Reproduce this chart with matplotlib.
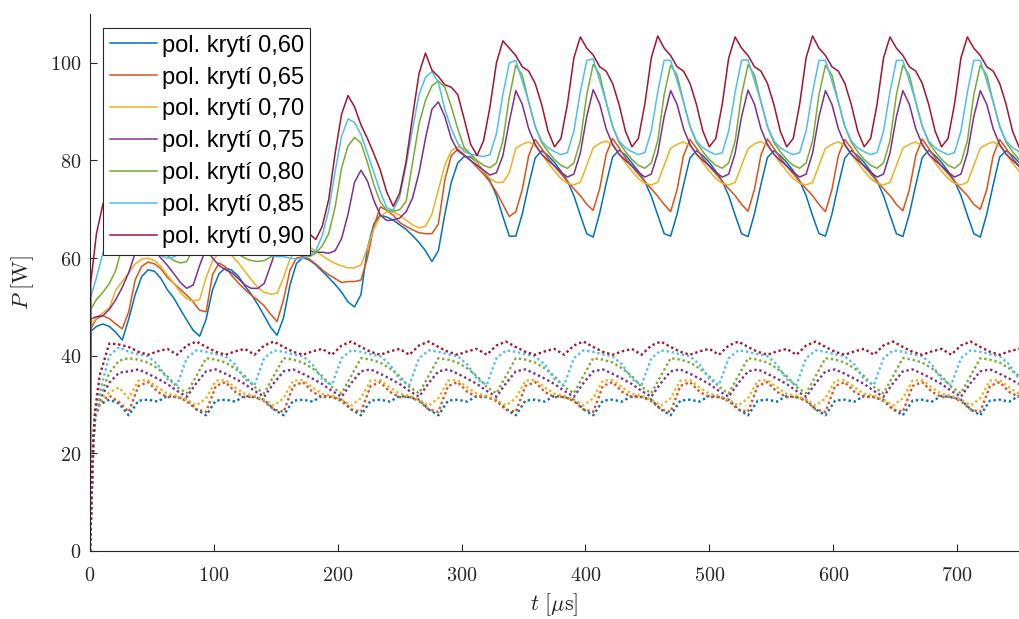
import numpy as np
import matplotlib.pyplot as plt
from matplotlib.ticker import FuncFormatter

plt.rcParams['mathtext.fontset'] = 'cm'

labels = ['pol. krytí 0,60', 'pol. krytí 0,65', 'pol. krytí 0,70', 'pol. krytí 0,75',
          'pol. krytí 0,80', 'pol. krytí 0,85', 'pol. krytí 0,90']
colors = ['#0072BD', '#D95319', '#EDB120', '#7E2F8E', '#77AC30', '#4DBEEE', '#A2142F']

# sample times [us]
t_solid = np.concatenate([[0, 0.6], np.linspace(750 / 144, 750, 144)])
t_dotted = np.concatenate([[0, 1.3, 2.7, 4.2], np.linspace(7.8125, 750, 96)])

# solid lines (upper family)
p060 = [0, 45,
        46.0, 46.5, 46.0, 44.8, 43.2,
        47.5, 52.5, 56.2, 57.6, 57.3, 55.8, 53.5, 51.8, 49.5, 47.3, 45.2, 44.0,
        47.5, 53.5, 56.8, 58.0, 57.5, 56.3, 54.3, 52.6, 50.5, 48.2, 45.8, 44.2,
        47.8, 54.5, 58.9, 60.1, 59.6, 58.6, 57.3, 56.0, 54.6, 53.0, 51.0, 50.0,
        52.5, 62.0, 67.0, 68.8, 68.4, 67.8, 66.8, 65.9, 64.6, 63.2, 61.5, 59.3,
        61.5, 69.0, 75.5, 79.5, 80.8, 80.7, 79.6, 77.8, 75.8, 72.8, 68.5, 64.5,
        64.5, 69.0, 75.0, 80.5, 82.0, 81.0, 79.6, 77.8, 75.8, 72.8, 68.8, 65.0,
        64.3, 69.2, 75.2, 80.7, 82.1, 81.1, 79.5, 77.8, 75.7, 72.7, 68.8, 65.0,
        64.5, 69.0, 75.0, 80.5, 82.0, 81.0, 79.6, 77.8, 75.8, 72.8, 68.8, 65.0,
        64.4, 69.1, 75.1, 80.6, 82.0, 81.0, 79.6, 77.9, 75.8, 72.8, 68.7, 65.0,
        64.5, 69.0, 75.0, 80.5, 82.0, 81.0, 79.6, 77.8, 75.8, 72.8, 68.8, 65.0,
        64.4, 69.0, 75.0, 80.6, 82.1, 81.0, 79.6, 77.8, 75.8, 72.8, 68.8, 65.0,
        64.3, 69.0, 75.0, 80.7, 82.0, 81.0, 79.6]
p065 = [0, 45.5,
        47.6, 48.2, 47.6, 46.5, 45.5,
        49.0, 55.5, 58.3, 59.2, 58.8, 57.8, 56.0, 54.8, 53.6, 52.4, 51.0, 49.3,
        49.0, 56.6, 59.0, 58.2, 56.4, 54.9, 53.6, 52.4, 51.4, 50.2, 48.5, 47.0,
        51.5, 57.5, 60.0, 60.3, 59.8, 58.8, 57.6, 56.6, 55.8, 55.0, 55.2, 55.2,
        55.5, 60.0, 66.5, 70.5, 69.8, 68.8, 67.3, 66.5, 65.8, 65.2, 65.0, 65.0,
        67.0, 76.0, 81.0, 82.3, 81.2, 80.0, 78.6, 77.2, 75.6, 73.5, 71.0, 68.5,
        69.5, 74.0, 81.0, 84.3, 82.5, 80.5, 78.8, 77.3, 75.7, 74.2, 72.8, 71.0,
        69.8, 74.2, 81.2, 84.5, 82.6, 80.5, 78.8, 77.2, 75.7, 74.2, 72.7, 71.0,
        69.5, 74.0, 81.0, 84.3, 82.5, 80.5, 78.8, 77.3, 75.7, 74.2, 72.8, 71.0,
        69.6, 74.1, 81.1, 84.4, 82.5, 80.5, 78.8, 77.3, 75.7, 74.2, 72.8, 71.0,
        69.5, 74.0, 81.0, 84.3, 82.5, 80.5, 78.8, 77.3, 75.7, 74.2, 72.8, 71.0,
        69.7, 74.0, 81.0, 84.4, 82.5, 80.5, 78.8, 77.3, 75.7, 74.2, 72.8, 71.0,
        70.0, 74.0, 81.0, 84.3, 82.5, 80.5, 78.8]
p070 = [0, 46,
        47.8, 48.8, 49.8, 53.5, 55.2,
        57.0, 58.8, 59.8, 60.0, 59.5, 58.2, 56.5, 54.8, 53.0, 51.6, 51.2, 51.5,
        56.0, 59.5, 61.0, 61.2, 60.5, 59.0, 57.3, 55.6, 54.0, 53.0, 52.6, 52.8,
        56.0, 59.8, 61.8, 62.5, 62.2, 61.5, 60.5, 59.6, 58.9, 58.4, 58.0, 58.0,
        58.6, 62.0, 66.0, 68.5, 69.5, 69.5, 68.8, 67.8, 66.8, 66.2, 66.5, 69.0,
        74.0, 79.0, 82.0, 82.8, 82.3, 81.2, 79.5, 77.8, 76.3, 75.5, 75.5, 77.5,
        82.5, 83.3, 83.8, 83.0, 81.3, 79.5, 77.8, 76.3, 75.3, 75.0, 75.5, 79.0,
        82.6, 83.5, 84.0, 83.1, 81.3, 79.5, 77.8, 76.3, 75.3, 75.0, 75.5, 79.0,
        82.5, 83.3, 83.8, 83.0, 81.3, 79.5, 77.8, 76.3, 75.3, 75.0, 75.5, 79.0,
        82.4, 83.4, 83.9, 83.0, 81.3, 79.5, 77.8, 76.3, 75.3, 75.0, 75.5, 79.0,
        82.5, 83.3, 83.8, 83.0, 81.3, 79.5, 77.8, 76.3, 75.3, 75.0, 75.5, 79.0,
        82.5, 83.3, 83.8, 83.0, 81.3, 79.5, 77.8, 76.3, 75.3, 75.0, 75.5, 79.0,
        82.5, 83.3, 83.8, 83.0, 81.3, 79.5, 77.8]
p075 = [0, 47.5,
        48.0, 48.2, 49.5, 51.5, 54.0,
        57.0, 61.0, 62.8, 62.5, 61.5, 60.0, 58.5, 56.8, 55.0, 53.8, 54.5, 58.5,
        62.0, 60.0, 58.5, 57.6, 57.0, 55.8, 54.5, 53.8, 53.8, 54.8, 58.5, 62.5,
        64.5, 64.8, 63.8, 62.5, 61.5, 61.2, 61.2, 61.0, 61.5, 64.0, 69.0, 75.5,
        78.0, 75.8, 71.8, 68.8, 67.7, 67.8, 68.2, 69.5, 72.3, 77.5, 84.5, 90.5,
        92.0, 89.0, 84.5, 82.0, 81.0, 80.0, 79.0, 78.0, 77.0, 77.5, 81.0, 88.0,
        94.3, 91.5, 86.5, 83.3, 81.3, 80.0, 78.9, 77.6, 76.6, 77.2, 81.5, 89.0,
        94.5, 91.6, 86.5, 83.3, 81.3, 80.0, 78.9, 77.6, 76.6, 77.2, 81.5, 89.0,
        94.3, 91.5, 86.5, 83.3, 81.3, 80.0, 78.9, 77.6, 76.6, 77.2, 81.5, 89.0,
        94.4, 91.5, 86.5, 83.3, 81.3, 80.0, 78.9, 77.6, 76.6, 77.2, 81.5, 89.0,
        94.3, 91.5, 86.5, 83.3, 81.3, 80.0, 78.9, 77.6, 76.6, 77.2, 81.5, 89.0,
        94.3, 91.5, 86.5, 83.3, 81.3, 80.0, 78.9, 77.6, 76.6, 77.2, 81.5, 89.0,
        94.3, 91.5, 86.5, 83.3, 81.3, 80.0, 78.9]
p080 = [0, 49.5,
        51.5, 53.0, 54.8, 57.5, 62.5,
        66.0, 67.5, 67.0, 65.5, 63.5, 61.8, 60.5, 59.5, 59.0, 59.3, 62.0, 66.5,
        67.5, 67.0, 65.5, 63.5, 62.0, 60.8, 60.0, 59.5, 59.3, 59.5, 60.2, 61.5,
        62.5, 62.8, 61.8, 60.6, 60.3, 61.0, 62.5, 65.0, 70.5, 78.5, 83.0, 84.7,
        83.6, 79.6, 75.0, 71.5, 69.8, 69.6, 69.9, 71.6, 79.5, 87.5, 92.3, 95.3,
        96.3, 95.0, 91.0, 86.5, 82.6, 81.3, 80.0, 79.0, 78.5, 79.5, 84.0, 93.0,
        99.5, 97.5, 92.0, 87.0, 83.7, 81.8, 80.2, 79.0, 78.4, 79.5, 84.0, 93.5,
        99.7, 97.6, 92.0, 87.0, 83.7, 81.8, 80.2, 79.0, 78.4, 79.5, 84.0, 93.5,
        99.5, 97.5, 92.0, 87.0, 83.7, 81.8, 80.2, 79.0, 78.4, 79.5, 84.0, 93.5,
        99.6, 97.5, 92.0, 87.0, 83.7, 81.8, 80.2, 79.0, 78.4, 79.5, 84.0, 93.5,
        99.5, 97.5, 92.0, 87.0, 83.7, 81.8, 80.2, 79.0, 78.4, 79.5, 84.0, 93.5,
        99.5, 97.5, 92.0, 87.0, 83.7, 81.8, 80.2, 79.0, 78.4, 79.5, 84.0, 93.5,
        99.5, 97.5, 92.0, 87.0, 83.7, 81.8, 80.2]
p085 = [0, 52,
        56.0, 61.0, 65.0, 68.5, 71.0,
        72.0, 69.5, 66.5, 63.5, 61.5, 60.5, 60.0, 60.2, 61.2, 63.5, 67.0, 69.0,
        69.0, 68.0, 66.5, 65.0, 63.5, 62.3, 61.5, 61.0, 60.8, 60.7, 60.5, 60.3,
        60.3, 60.0, 59.8, 60.0, 60.6, 61.5, 64.6, 69.8, 77.8, 85.0, 88.5, 87.8,
        85.3, 81.5, 77.5, 73.6, 70.3, 69.8, 72.5, 79.0, 86.5, 93.5, 97.0, 98.2,
        96.0, 90.5, 86.5, 83.5, 81.8, 81.3, 81.0, 80.8, 81.2, 85.5, 93.5, 100.0,
        100.5, 96.3, 92.0, 87.0, 84.0, 82.6, 81.8, 81.2, 81.6, 86.0, 94.0, 100.5,
        100.8, 96.4, 92.0, 87.0, 84.0, 82.6, 81.8, 81.2, 81.6, 86.0, 94.0, 100.5,
        100.5, 96.3, 92.0, 87.0, 84.0, 82.6, 81.8, 81.2, 81.6, 86.0, 94.0, 100.5,
        100.6, 96.3, 92.0, 87.0, 84.0, 82.6, 81.8, 81.2, 81.6, 86.0, 94.0, 100.5,
        100.5, 96.3, 92.0, 87.0, 84.0, 82.6, 81.8, 81.2, 81.6, 86.0, 94.0, 100.5,
        100.5, 96.3, 92.0, 87.0, 84.0, 82.6, 81.8, 81.2, 81.6, 86.0, 94.0, 100.5,
        100.5, 96.3, 92.0, 87.0, 84.0, 82.6, 81.8]
p090 = [0, 55,
        65.0, 71.0, 75.0, 77.0, 77.5,
        77.0, 75.5, 74.0, 72.0, 70.0, 68.5, 68.0, 68.5, 70.5, 74.0, 77.0, 77.5,
        76.5, 75.0, 73.5, 71.5, 69.5, 68.0, 67.5, 68.5, 71.5, 75.5, 78.0, 77.5,
        77.0, 76.0, 73.0, 69.0, 65.0, 63.8, 66.5, 72.0, 81.5, 89.5, 93.3, 91.0,
        87.3, 84.5, 81.4, 78.0, 73.5, 70.6, 73.3, 79.8, 89.0, 97.8, 102.0, 98.5,
        97.2, 95.5, 95.0, 93.5, 88.5, 83.3, 81.0, 84.0, 91.0, 100.0, 104.5, 103.0,
        101.5, 99.2, 98.3, 95.8, 91.5, 86.0, 82.8, 84.5, 91.5, 101.0, 105.3, 103.0,
        101.6, 99.2, 98.3, 95.8, 91.5, 86.0, 82.8, 84.5, 91.5, 101.0, 105.5, 103.0,
        101.5, 99.2, 98.3, 95.8, 91.5, 86.0, 82.8, 84.5, 91.5, 101.0, 105.3, 103.0,
        101.5, 99.2, 98.3, 95.8, 91.5, 86.0, 82.8, 84.5, 91.5, 101.0, 105.5, 103.0,
        101.5, 99.2, 98.3, 95.8, 91.5, 86.0, 82.8, 84.5, 91.5, 101.0, 105.3, 103.0,
        101.5, 99.2, 98.3, 95.8, 91.5, 86.0, 82.8, 84.5, 91.5, 101.0, 105.3, 103.0,
        101.5, 99.2, 98.3, 95.8, 91.5, 86.0, 82.8]

# dotted lines (lower family)
d060 = [0, 11.0, 22.0, 27.5, 30.0, 31.0, 30.2,
        27.8, 30.8, 31.0, 30.6, 31.8, 31.5, 31.0, 29.0,
        27.8, 30.8, 31.0, 30.6, 31.8, 31.5, 31.0, 29.0,
        27.8, 30.8, 31.0, 30.6, 31.8, 31.5, 31.0, 29.0,
        27.8, 30.8, 31.0, 30.6, 31.8, 31.5, 31.0, 29.0,
        27.8, 30.8, 31.0, 30.6, 31.8, 31.5, 31.0, 29.0,
        27.8, 30.8, 31.0, 30.6, 31.8, 31.5, 31.0, 29.0,
        27.8, 30.8, 31.0, 30.6, 31.8, 31.5, 31.0, 29.0,
        27.8, 30.8, 31.0, 30.6, 31.8, 31.5, 31.0, 29.0,
        27.8, 30.8, 31.0, 30.6, 31.8, 31.5, 31.0, 29.0,
        27.8, 30.8, 31.0, 30.6, 31.8, 31.5, 31.0, 29.0,
        27.8, 30.8, 31.0, 30.6, 31.8, 31.5, 31.0, 29.0,
        27.8, 30.8, 31.0, 30.6, 31.8]
d065 = [0, 11.0, 22.0, 27.5, 30.3, 31.8, 30.5,
        28.5, 33.8, 34.6, 32.6, 31.5, 31.6, 30.7, 29.0,
        28.5, 33.8, 34.6, 32.6, 31.5, 31.6, 30.7, 29.0,
        28.5, 33.8, 34.6, 32.6, 31.5, 31.6, 30.7, 29.0,
        28.5, 33.8, 34.6, 32.6, 31.5, 31.6, 30.7, 29.0,
        28.5, 33.8, 34.6, 32.6, 31.5, 31.6, 30.7, 29.0,
        28.5, 33.8, 34.6, 32.6, 31.5, 31.6, 30.7, 29.0,
        28.5, 33.8, 34.6, 32.6, 31.5, 31.6, 30.7, 29.0,
        28.5, 33.8, 34.6, 32.6, 31.5, 31.6, 30.7, 29.0,
        28.5, 33.8, 34.6, 32.6, 31.5, 31.6, 30.7, 29.0,
        28.5, 33.8, 34.6, 32.6, 31.5, 31.6, 30.7, 29.0,
        28.5, 33.8, 34.6, 32.6, 31.5, 31.6, 30.7, 29.0,
        28.5, 33.8, 34.6, 32.6, 31.5]
d070 = [0, 11.0, 22.0, 27.6, 30.5, 32.5, 33.5,
        31.3, 34.9, 35.0, 33.5, 32.2, 31.8, 31.0, 29.8,
        31.3, 34.9, 35.0, 33.5, 32.2, 31.8, 31.0, 29.8,
        31.3, 34.9, 35.0, 33.5, 32.2, 31.8, 31.0, 29.8,
        31.3, 34.9, 35.0, 33.5, 32.2, 31.8, 31.0, 29.8,
        31.3, 34.9, 35.0, 33.5, 32.2, 31.8, 31.0, 29.8,
        31.3, 34.9, 35.0, 33.5, 32.2, 31.8, 31.0, 29.8,
        31.3, 34.9, 35.0, 33.5, 32.2, 31.8, 31.0, 29.8,
        31.3, 34.9, 35.0, 33.5, 32.2, 31.8, 31.0, 29.8,
        31.3, 34.9, 35.0, 33.5, 32.2, 31.8, 31.0, 29.8,
        31.3, 34.9, 35.0, 33.5, 32.2, 31.8, 31.0, 29.8,
        31.3, 34.9, 35.0, 33.5, 32.2, 31.8, 31.0, 29.8,
        31.3, 34.9, 35.0, 33.5, 32.2]
d075 = [0, 11.2, 22.3, 27.8, 31.0, 34.5, 36.5,
        36.8, 37.2, 36.3, 35.3, 34.2, 32.8, 31.6, 34.4,
        36.8, 37.2, 36.3, 35.3, 34.2, 32.8, 31.6, 34.4,
        36.8, 37.2, 36.3, 35.3, 34.2, 32.8, 31.6, 34.4,
        36.8, 37.2, 36.3, 35.3, 34.2, 32.8, 31.6, 34.4,
        36.8, 37.2, 36.3, 35.3, 34.2, 32.8, 31.6, 34.4,
        36.8, 37.2, 36.3, 35.3, 34.2, 32.8, 31.6, 34.4,
        36.8, 37.2, 36.3, 35.3, 34.2, 32.8, 31.6, 34.4,
        36.8, 37.2, 36.3, 35.3, 34.2, 32.8, 31.6, 34.4,
        36.8, 37.2, 36.3, 35.3, 34.2, 32.8, 31.6, 34.4,
        36.8, 37.2, 36.3, 35.3, 34.2, 32.8, 31.6, 34.4,
        36.8, 37.2, 36.3, 35.3, 34.2, 32.8, 31.6, 34.4,
        36.8, 37.2, 36.3, 35.3, 34.2]
d080 = [0, 11.5, 22.6, 28.0, 31.5, 36.5, 39.0,
        39.5, 39.2, 38.6, 37.4, 35.8, 33.6, 32.3, 35.9,
        39.5, 39.2, 38.6, 37.4, 35.8, 33.6, 32.3, 35.9,
        39.5, 39.2, 38.6, 37.4, 35.8, 33.6, 32.3, 35.9,
        39.5, 39.2, 38.6, 37.4, 35.8, 33.6, 32.3, 35.9,
        39.5, 39.2, 38.6, 37.4, 35.8, 33.6, 32.3, 35.9,
        39.5, 39.2, 38.6, 37.4, 35.8, 33.6, 32.3, 35.9,
        39.5, 39.2, 38.6, 37.4, 35.8, 33.6, 32.3, 35.9,
        39.5, 39.2, 38.6, 37.4, 35.8, 33.6, 32.3, 35.9,
        39.5, 39.2, 38.6, 37.4, 35.8, 33.6, 32.3, 35.9,
        39.5, 39.2, 38.6, 37.4, 35.8, 33.6, 32.3, 35.9,
        39.5, 39.2, 38.6, 37.4, 35.8, 33.6, 32.3, 35.9,
        39.5, 39.2, 38.6, 37.4, 35.8]
d085 = [0, 11.8, 23.0, 28.3, 32.5, 40.0, 41.8,
        40.8, 40.3, 39.9, 38.2, 35.2, 34.0, 39.5, 41.1,
        40.8, 40.3, 39.9, 38.2, 35.2, 34.0, 39.5, 41.1,
        40.8, 40.3, 39.9, 38.2, 35.2, 34.0, 39.5, 41.1,
        40.8, 40.3, 39.9, 38.2, 35.2, 34.0, 39.5, 41.1,
        40.8, 40.3, 39.9, 38.2, 35.2, 34.0, 39.5, 41.1,
        40.8, 40.3, 39.9, 38.2, 35.2, 34.0, 39.5, 41.1,
        40.8, 40.3, 39.9, 38.2, 35.2, 34.0, 39.5, 41.1,
        40.8, 40.3, 39.9, 38.2, 35.2, 34.0, 39.5, 41.1,
        40.8, 40.3, 39.9, 38.2, 35.2, 34.0, 39.5, 41.1,
        40.8, 40.3, 39.9, 38.2, 35.2, 34.0, 39.5, 41.1,
        40.8, 40.3, 39.9, 38.2, 35.2, 34.0, 39.5, 41.1,
        40.8, 40.3, 39.9, 38.2, 35.2]
d090 = [0, 12.0, 23.5, 29.0, 36.0, 42.5, 42.3,
        41.8, 40.8, 40.2, 40.9, 41.4, 40.2, 42.1, 42.9,
        41.8, 40.8, 40.2, 40.9, 41.4, 40.2, 42.1, 42.9,
        41.8, 40.8, 40.2, 40.9, 41.4, 40.2, 42.1, 42.9,
        41.8, 40.8, 40.2, 40.9, 41.4, 40.2, 42.1, 42.9,
        41.8, 40.8, 40.2, 40.9, 41.4, 40.2, 42.1, 42.9,
        41.8, 40.8, 40.2, 40.9, 41.4, 40.2, 42.1, 42.9,
        41.8, 40.8, 40.2, 40.9, 41.4, 40.2, 42.1, 42.9,
        41.8, 40.8, 40.2, 40.9, 41.4, 40.2, 42.1, 42.9,
        41.8, 40.8, 40.2, 40.9, 41.4, 40.2, 42.1, 42.9,
        41.8, 40.8, 40.2, 40.9, 41.4, 40.2, 42.1, 42.9,
        41.8, 40.8, 40.2, 40.9, 41.4, 40.2, 42.1, 42.9,
        41.8, 40.8, 40.2, 40.9, 41.4]

solid = [p060, p065, p070, p075, p080, p085, p090]
dotted = [d060, d065, d070, d075, d080, d085, d090]

fig = plt.figure(figsize=(10.19, 6.19), dpi=100)
ax = fig.add_axes([90 / 1019, 68 / 619, 929 / 1019, 537 / 619])

for vals, c, lab in zip(solid, colors, labels):
    ax.plot(t_solid, vals, color=c, lw=1.1, label=lab)
for vals, c in zip(dotted, colors):
    ax.plot(t_dotted, vals, color=c, lw=1.7, linestyle=(0, (1.0, 1.2)))

ax.set_xlim(0, 750)
ax.set_ylim(0, 110)
ax.set_xticks(range(0, 701, 100))
ax.set_yticks(range(0, 101, 20))
fmt = FuncFormatter(lambda v, p: f'${v:g}$')
ax.xaxis.set_major_formatter(fmt)
ax.yaxis.set_major_formatter(fmt)
ax.tick_params(direction='in', length=5, width=0.8, color='#262626',
               labelcolor='#262626', labelsize=14.5, pad=6)
ax.tick_params(axis='x', pad=11)
for s in ['top', 'right']:
    ax.spines[s].set_visible(False)
for s in ['left', 'bottom']:
    ax.spines[s].set_color('#262626')
    ax.spines[s].set_linewidth(0.8)

ax.set_xlabel(r'$t\ [\mu\mathrm{s}]$', fontsize=16, color='#262626', labelpad=4)
ax.set_ylabel(r'$P\ [\mathrm{W}]$', fontsize=16, color='#262626', labelpad=10)

leg = ax.legend(loc='upper left', bbox_to_anchor=(13 / 929, 1 - 14 / 537),
                borderaxespad=0, fancybox=False, framealpha=1, edgecolor='#262626',
                prop={'family': 'Liberation Sans', 'size': 17},
                handlelength=2.0, handletextpad=0.2, labelspacing=0.42, borderpad=0.28)
leg.get_frame().set_linewidth(0.8)

fig.savefig('out.png', dpi=100)
